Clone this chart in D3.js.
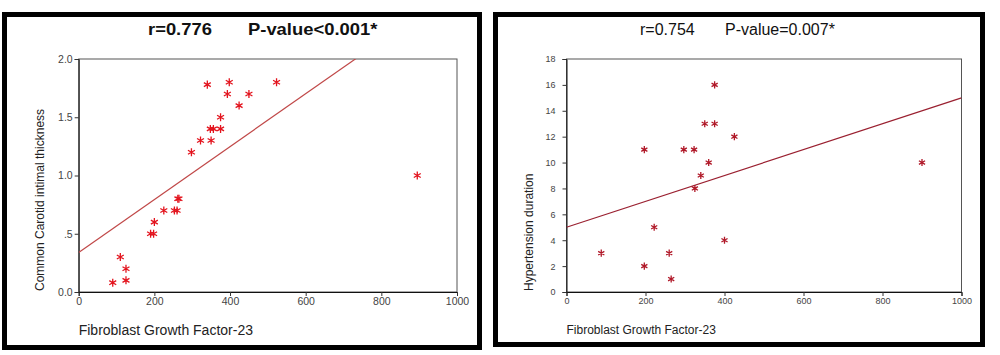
<!DOCTYPE html>
<html>
<head>
<meta charset="utf-8">
<script src="https://cdn.jsdelivr.net/npm/d3@7"></script>
<style>
  html, body { margin: 0; padding: 0; background: #fff; }
  svg { display: block; font-family: "Liberation Sans", Arial, sans-serif; }
</style>
</head>
<body>
<svg id="chart" width="1000" height="355"></svg>
<script>
// ---------------- DATA ----------------
// Left panel: FGF-23 vs Common Carotid intimal thickness
const fgfLeft  = [90, 125, 125, 110, 190, 198, 200, 225, 253, 260, 262, 265, 298, 322, 350, 348, 356, 375, 375, 340, 398, 393, 450, 424, 523, 895];
const cimt     = [0.08, 0.1, 0.2, 0.3, 0.5, 0.5, 0.6, 0.7, 0.7, 0.7, 0.8, 0.8, 1.2, 1.3, 1.3, 1.4, 1.4, 1.4, 1.5, 1.78, 1.8, 1.7, 1.7, 1.6, 1.8, 1.0];
const fitLeft  = [0.34, 0.00227];            // intercept, slope
const xTicks   = [0, 200, 400, 600, 800, 1000];
const yTicksLeft = [0, 0.5, 1.0, 1.5, 2.0];
const yTickLabelsLeft = ["0.0", ".5", "1.0", "1.5", "2.0"];
const titleLeft = ["r=0.776", "P-value<0.001*"];

// Right panel: FGF-23 vs Hypertension duration
const fgfRight = [88, 197, 197, 222, 260, 265, 297, 323, 325, 340, 350, 375, 375, 360, 425, 400, 900];
const htnDur   = [3, 2, 11, 5, 3, 1, 11, 11, 8, 9, 13, 13, 16, 10, 12, 4, 10];
const fitRight = [5.0, 0.010];               // intercept, slope
const yTicksRight = [0, 2, 4, 6, 8, 10, 12, 14, 16, 18];
const titleRight = ["r=0.754", "P-value=0.007*"];

const xLabel = "Fibroblast Growth Factor-23";
const yLabelLeft = "Common Carotid intimal thickness";
const yLabelRight = "Hypertension duration";

// ---------------- DRAW ----------------
const svg = d3.select("#chart");

function panel(cfg) {
  const g = svg.append("g");
  // outer thick frame
  g.append("rect")
    .attr("x", cfg.frame[0]).attr("y", cfg.frame[1])
    .attr("width", cfg.frame[2]).attr("height", cfg.frame[3])
    .attr("fill", "#fff").attr("stroke", "#000").attr("stroke-width", 5);

  const x = d3.scaleLinear().domain([0, 1000]).range(cfg.xr);
  const y = d3.scaleLinear().domain(cfg.ydom).range(cfg.yr);

  // titles
  g.append("text").attr("x", cfg.t1x).attr("y", cfg.ty)
    .attr("font-size", cfg.tfs).attr("font-weight", cfg.tfw)
    .attr("transform", cfg.tsx !== 1 ? `translate(${cfg.t1x},0) scale(${cfg.tsx},1) translate(${-cfg.t1x},0)` : null)
    .attr("fill", "#111").text(cfg.title[0]);
  g.append("text").attr("x", cfg.t2x).attr("y", cfg.ty)
    .attr("font-size", cfg.tfs).attr("font-weight", cfg.tfw)
    .attr("transform", cfg.tsx !== 1 ? `translate(${cfg.t2x},0) scale(${cfg.tsx},1) translate(${-cfg.t2x},0)` : null)
    .attr("fill", "#111").text(cfg.title[1]);

  // plot box
  g.append("rect")
    .attr("x", cfg.xr[0]).attr("y", cfg.yr[1])
    .attr("width", cfg.xr[1] - cfg.xr[0]).attr("height", cfg.yr[0] - cfg.yr[1])
    .attr("fill", "none").attr("stroke", "#555").attr("stroke-width", 1);

  // axes
  const xa = g.append("g").attr("transform", `translate(0,${cfg.yr[0]})`)
    .call(d3.axisBottom(x).tickValues(xTicks).tickSize(4).tickPadding(2).tickFormat(d3.format("d")));
  const ya = g.append("g").attr("transform", `translate(${cfg.xr[0]},0)`)
    .call(d3.axisLeft(y).tickValues(cfg.yticks).tickSize(4).tickPadding(cfg.ypad)
      .tickFormat((d, i) => cfg.ylabels[i]));
  [xa, ya].forEach(a => {
    a.select(".domain").attr("stroke", "#111");
    a.selectAll(".tick line").attr("stroke", "#333");
    a.selectAll(".tick text").attr("fill", "#444").attr("font-size", cfg.tickfs)
      .attr("font-family", "Liberation Sans, Arial, sans-serif");
  });

  // axis labels
  g.append("text").attr("x", cfg.xr[0]).attr("y", cfg.xly)
    .attr("font-size", cfg.xlfs).attr("fill", "#222").text(xLabel);
  g.append("text")
    .attr("transform", `translate(${cfg.ylx},${cfg.yr[0] - 1}) rotate(-90)`)
    .attr("font-size", 12).attr("fill", "#222").attr("text-anchor", "start")
    .text(cfg.ylabel);

  // clip
  const cid = "clip" + cfg.id;
  svg.append("defs").append("clipPath").attr("id", cid).append("rect")
    .attr("x", cfg.xr[0]).attr("y", cfg.yr[1])
    .attr("width", cfg.xr[1] - cfg.xr[0]).attr("height", cfg.yr[0] - cfg.yr[1]);

  // regression line
  const fx = [0, 1000];
  g.append("path")
    .attr("clip-path", `url(#${cid})`)
    .attr("d", d3.line().x(d => x(d)).y(d => y(cfg.fit[0] + cfg.fit[1] * d))(fx))
    .attr("fill", "none").attr("stroke", cfg.lineColor).attr("stroke-width", 1.2);

  // points
  const sym = d3.symbol(d3.symbolAsterisk, cfg.symSize);
  g.append("g").selectAll("path").data(cfg.xs.map((v, i) => [v, cfg.ys[i]]))
    .join("path")
    .attr("transform", d => `translate(${x(d[0])},${y(d[1])})`)
    .attr("d", sym)
    .attr("fill", "none").attr("stroke", cfg.ptColor).attr("stroke-width", 1.3);
}

panel({
  id: "L", frame: [4.5, 14.5, 475, 333],
  xr: [78.7, 457], yr: [292, 59], ydom: [0, 2],
  yticks: yTicksLeft, ylabels: yTickLabelsLeft, ypad: 2,
  title: titleLeft, t1x: 148, t2x: 248, ty: 35, tfs: 16, tfw: "bold", tsx: 1.15,
  tickfs: 10.5, xly: 335, xlfs: 14, ylx: 44, ylabel: yLabelLeft,
  fit: fitLeft, lineColor: "#c04848", ptColor: "#e3141e", symSize: 45,
  xs: fgfLeft, ys: cimt
});

panel({
  id: "R", frame: [495.5, 14.5, 487, 330],
  xr: [566.5, 961.5], yr: [292, 59], ydom: [0, 18],
  yticks: yTicksRight, ylabels: yTicksRight.map(String), ypad: 7,
  title: titleRight, t1x: 640, t2x: 725, ty: 34.5, tfs: 16, tfw: "normal", tsx: 1,
  tickfs: 9, xly: 334, xlfs: 12, ylx: 533, ylabel: yLabelRight,
  fit: fitRight, lineColor: "#9a2030", ptColor: "#b01828", symSize: 35,
  xs: fgfRight, ys: htnDur
});
</script>
</body>
</html>
